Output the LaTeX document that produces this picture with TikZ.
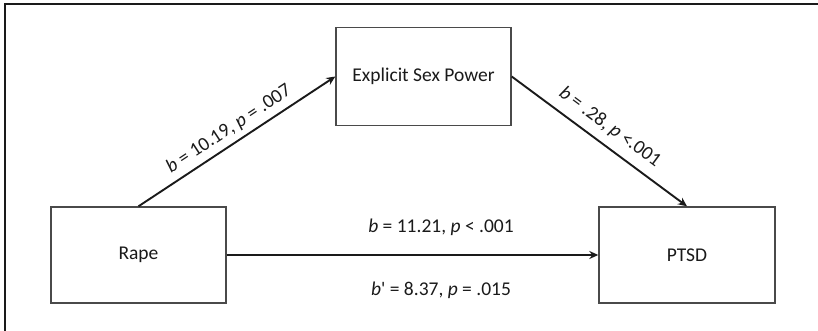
\documentclass[tikz,border=0pt]{standalone}
\usepackage{fontspec}
\setmainfont{Carlito}
\usepackage{tikz}
\usetikzlibrary{arrows.meta,positioning}
\definecolor{ink}{HTML}{1A1A1A}
\definecolor{edge}{HTML}{4A4A4A}

\begin{document}
\begin{tikzpicture}[
  x=1pt,y=1pt,
  var/.style={draw=edge,line width=1.4pt,fill=white,minimum width=175pt,minimum height=96pt,font=\fontsize{19.5}{22}\selectfont,text=ink},
  path/.style={-{Stealth[length=9pt,width=8pt]},line width=1.9pt,draw=ink},
  coef/.style={font=\fontsize{19.5}{22}\selectfont,text=ink}
]
\useasboundingbox (0,0) rectangle (818,331);
\draw[line width=1.6pt,draw=ink] (5,0)--(5,327)--(818,327);
\node[var] (rape) at (138.5,76) {Rape};
\node[var,minimum height=98pt] (power) at (423.5,254.5) {Explicit Sex Power};
\node[var,minimum width=176pt] (ptsd) at (687,76) {PTSD};
\draw[path] (rape.north)--(power.west) node[coef,midway,sloped,above=2pt] {\textit{b} = 10.19, \textit{p} = .007};
\draw[path] (power.east)--(ptsd.north) node[coef,midway,sloped,above=5pt] {\textit{b} = .28, \textit{p} <.001};
\draw[path] (rape)--(ptsd);
\node[coef] (total) at (441,104) {\textit{b} = 11.21, \textit{p} < .001};
\node[coef] (direct) at (441,41) {\textit{b}\textquotesingle{} = 8.37, \textit{p} = .015};
\end{tikzpicture}
\end{document}
